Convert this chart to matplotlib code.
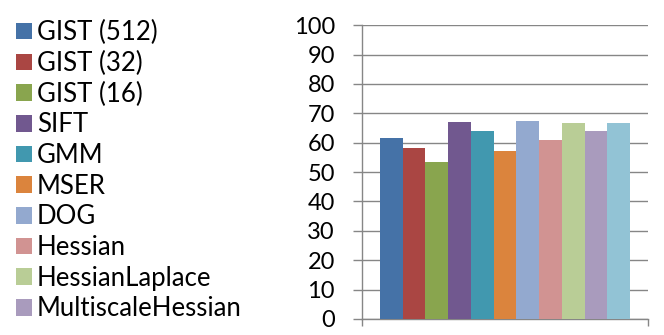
import numpy as np
import matplotlib
matplotlib.use('Agg')
import matplotlib.pyplot as plt
from matplotlib.patches import Patch

plt.rcParams['font.family'] = ['Lato', 'DejaVu Sans']

# legend labels (the 11th bar has no visible legend entry)
labels = ['GIST (512)', 'GIST (32)', 'GIST (16)', 'SIFT', 'GMM', 'MSER',
          'DOG', 'Hessian', 'HessianLaplace', 'MultiscaleHessian']
values = [61.5, 58.3, 53.3, 67.1, 64.0, 57.2, 67.4, 61.0, 66.8, 64.0, 66.8]
colors = ['#4572A7', '#AA4643', '#89A54E', '#71588F', '#4198AF', '#DB843D',
          '#93A9CF', '#D19392', '#B9CD96', '#A99BBD', '#92C3D5']
yticks = list(range(0, 101, 10))

fig = plt.figure(figsize=(6.64, 3.35), dpi=100)
ax = fig.add_axes([0.545, 0.048, 0.431, 0.877])

x = np.arange(len(values))
ax.bar(x, values, width=1.0, color=colors, zorder=3)

ax.set_ylim(0, 100)
ax.set_xlim(-0.5 - 0.79, len(values) - 0.5 + 0.79)
ax.set_yticks(yticks)
ax.set_yticklabels([str(t) for t in yticks], fontsize=17)
ax.set_xticks([-0.5 - 0.79, len(values) - 0.5 + 0.79])
ax.set_xticklabels([])
ax.tick_params(axis='y', length=6.5, width=1, color='#868686', pad=13)
ax.tick_params(axis='x', length=5, width=1, color='#868686', direction='out')
ax.grid(axis='y', color='#868686', lw=1, zorder=0)
for s in ['top', 'right']:
    ax.spines[s].set_visible(False)
for s in ['left', 'bottom']:
    ax.spines[s].set_color('#868686')
    ax.spines[s].set_linewidth(1)

handles = [Patch(facecolor=c) for c in colors[:len(labels)]]
fig.legend(handles, labels, loc='upper left', bbox_to_anchor=(0.024, 0.94),
           frameon=False, fontsize=18.5, handlelength=0.62, handleheight=0.62,
           handletextpad=0.2, labelspacing=0.22, borderaxespad=0, borderpad=0)

fig.savefig('out.png', dpi=100)
